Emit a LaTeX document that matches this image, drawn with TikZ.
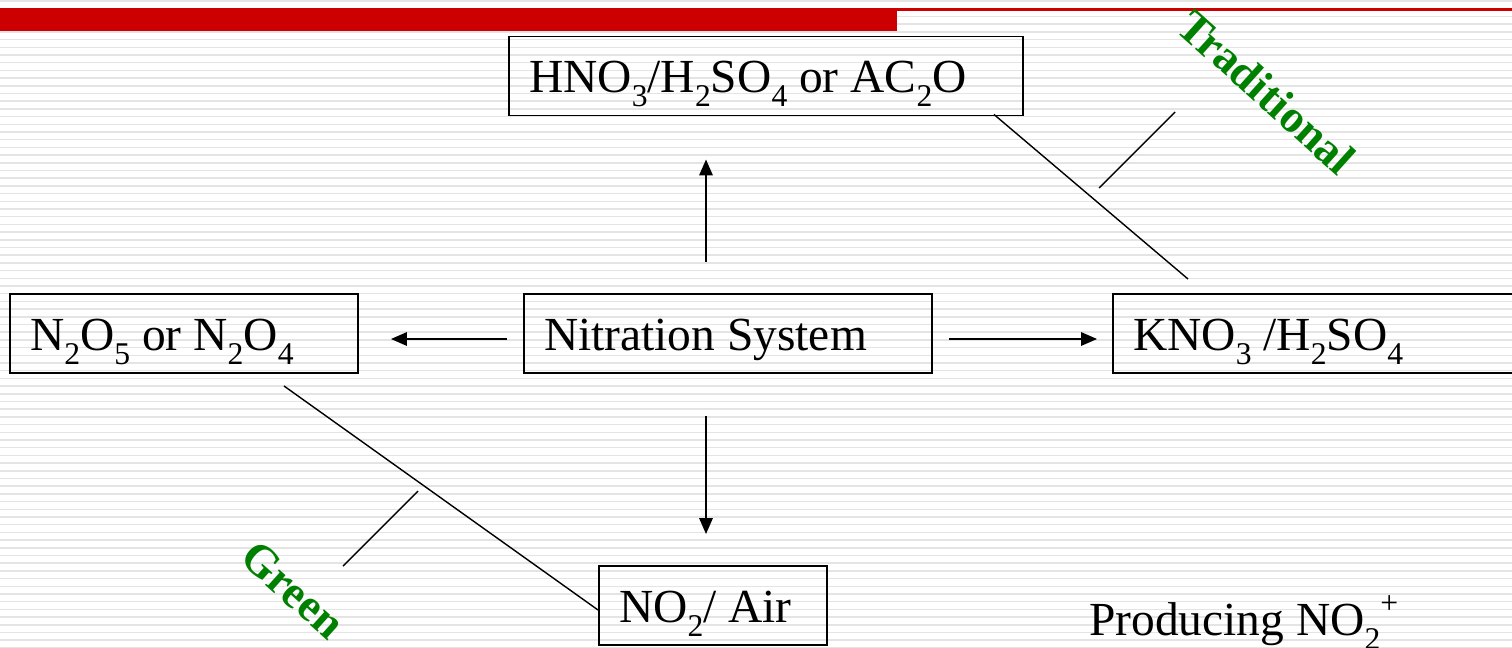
\documentclass[tikz,border=0pt]{standalone}
\usepackage{fontspec}
\setmainfont{Liberation Serif}
\usetikzlibrary{arrows.meta}
\usepackage{xcolor}
\definecolor{slidered}{RGB}{204,0,0}
\definecolor{labelgreen}{RGB}{0,128,0}
\definecolor{stripe}{RGB}{228,228,228}
\newcommand{\chs}[1]{\raisebox{-0.3em}[0.4em][0pt]{\fontsize{18}{20}\selectfont #1}}
\tikzstyle{box} = [rectangle, 
minimum height=1.58cm, 
inner xsep=0.4cm, 
text height=20.5pt, 
text depth=1.5pt, 
align=flush left, 
draw=black, 
line width=1.1pt, 
font=\fontsize{27}{32}\selectfont]
\tikzstyle{arrow} = [line width=1pt, -{Triangle[length=0.32cm, width=0.27cm]}]
\tikzstyle{line} = [line width=0.8pt]
\tikzstyle{tag} = [font=\fontsize{26}{30}\selectfont\bfseries, 
text=labelgreen, 
rotate=-42]

\begin{document}
\begin{tikzpicture}[node distance=5.3cm]
	\useasboundingbox (0,0) rectangle (30.24,-12.96);
	
	% slide background
	\foreach \k in {0,...,84}
		\fill[stripe] (0,-0.006-0.154*\k) rectangle (30.24,-0.036-0.154*\k);
	\fill[slidered] (0,-0.16) rectangle (17.94,-0.62);
	\fill[slidered] (17.94,-0.16) rectangle (30.24,-0.21);
	
	\node (nit) [box, text width=7.36cm] at (14.56,-6.67) {Nitration System};
	\node (hno) [box, text width=9.48cm, above of=nit, yshift=-0.15cm, xshift=0.76cm] {HNO\chs{3}/H\chs{2}SO\chs{4} or AC\chs{2}O};
	\node (nno) [box, text width=6.16cm, left of=nit, xshift=-5.58cm] {N\chs{2}O\chs{5} or N\chs{2}O\chs{4}};
	\node (kno) [box, text width=7.8cm, right of=nit, xshift=6.7cm] {KNO\chs{3} /H\chs{2}SO\chs{4}};
	\node (air) [box, text width=3.76cm, below of=nit, yshift=-0.14cm, xshift=-0.3cm] {NO\chs{2}/ Air};
	
	\node (trd) [tag] at (25.34,-1.84) {Traditional};
	\node (grn) [tag] at (5.86,-11.8) {Green};
	\node (prod) [anchor=base west, font=\fontsize{27}{32}\selectfont] at (21.66,-12.7) {Producing NO\chs{2}\raisebox{0.45em}{\fontsize{18}{20}\selectfont +}};
	
	\draw [arrow, shorten <=0.62cm, shorten >=0.86cm] ([xshift=-0.44cm]nit.north) -- ([xshift=-0.44cm]nit.north |- hno.south);
	\draw [arrow, shorten <=0.32cm, shorten >=0.64cm] ([yshift=-0.11cm]nit.west) -- ([yshift=-0.11cm]nno.east);
	\draw [arrow, shorten <=0.32cm, shorten >=0.3cm] ([yshift=-0.11cm]nit.east) -- ([yshift=-0.11cm]kno.west);
	\draw [arrow, shorten <=0.84cm, shorten >=0.62cm] ([xshift=-0.44cm]nit.south) -- ([xshift=-0.44cm]nit.south |- air.north);
	
	% traditional and green routes
	\draw [line] ([xshift=-0.6cm, yshift=0.04cm]hno.south east) -- ([xshift=1.52cm, yshift=0.28cm]kno.north west);
	\coordinate (tradtick) at (21.98,-3.76);
	\draw [line] (tradtick) -- ++(1.52,1.52);
	\draw [line] ([xshift=-1.5cm, yshift=-0.24cm]nno.south east) -- ([yshift=-0.09cm]air.west);
	\coordinate (greentick) at (8.36,-9.82);
	\draw [line] (greentick) -- ++(-1.5,-1.5);
	
\end{tikzpicture}
\end{document}
